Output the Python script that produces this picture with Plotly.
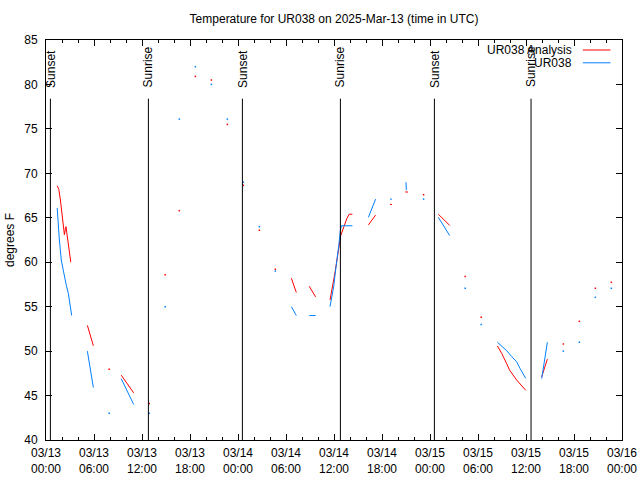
import plotly.graph_objects as go
import pandas as pd

BASE = pd.Timestamp("2025-03-13 00:00")
TITLE = "Temperature for UR038 on 2025-Mar-13 (time in UTC)"
Y_TITLE = "degrees F"

# hours after 2025-03-13 00:00 UTC; None marks a gap in the record
ana_hours = [1.4, 1.6, 1.8, 1.95, 2.1, 2.3, 2.42, 2.5, 2.6, 2.75, 2.95, 3.1, None,
             5.17, 5.92, None, 7.9, None, 9.4, 10.96, None, 12.9, None, 14.9, None,
             16.67, None, 18.67, None, 20.67, None, 22.67, None, 24.67, None, 26.67, None,
             28.67, None, 30.67, 31.29, None, 32.9, 33.7, None,
             35.5, 35.75, 35.96, 36.17, 36.4, 36.6, 36.8, 37.0, 37.2, 37.4, 37.6, 37.9, 38.3, None,
             40.3, 41.2, None, 43.0, 43.25, None, 44.9, 45.25, None, 47.2, None,
             49.04, 50.46, None, 52.4, None, 54.4, None,
             56.42, 56.96, 57.58, 57.96, 58.83, 59.96, None, 61.96, 62.67, None,
             64.67, None, 66.67, None, 68.67, None, 70.67]
ana_temp = [68.6, 68.2, 67.0, 66.0, 64.6, 63.1, 63.7, 64.0, 63.3, 62.3, 60.6, 60.0, None,
            52.9, 50.6, None, 47.95, None, 47.3, 45.3, None, 44.1, None, 58.6, None,
            65.8, None, 80.9, None, 80.5, None, 75.5, None, 68.65, None, 63.6, None,
            59.2, None, 58.2, 56.6, None, 57.3, 56.1, None,
            55.75, 57.25, 58.0, 59.1, 60.25, 61.6, 62.9, 63.4, 64.0, 64.5, 64.9, 65.4, 65.4, None,
            64.2, 65.3, None, 66.5, 66.5, None, 67.9, 67.9, None, 67.6, None,
            65.4, 64.15, None, 58.4, None, 53.8, None,
            50.58, 49.75, 48.6, 47.84, 46.75, 45.6, None, 47.1, 49.1, None,
            50.8, None, 53.35, None, 57.07, None, 57.74]

obs_hours = [1.4, 1.45, 1.55, 1.67, 1.79, 1.91, 2.16, 2.29, 2.54, 2.79, 2.96, 3.21, None,
             5.17, 5.92, None, 7.9, None, 9.4, 10.96, None, 12.9, None, 14.9, None,
             16.67, None, 18.67, None, 20.67, None, 22.67, None, 24.67, None, 26.67, None,
             28.67, None, 30.67, 31.29, None, 32.9, 33.7, None,
             35.5, 35.75, 35.96, 36.17, 36.4, 36.6, 36.8, 36.92, 38.3, None,
             40.3, 41.2, None, 43.0, 43.25, None, 45.0, 45.04, None, 47.2, None,
             49.04, 50.46, None, 52.4, None, 54.4, None,
             56.42, 56.96, 57.58, 58.2, 58.83, 59.25, 59.96, None, 61.96, 62.67, None,
             64.67, None, 66.67, None, 68.67, None, 70.67]
obs_temp = [66.1, 65.1, 63.6, 62.5, 61.4, 60.25, 59.1, 58.4, 57.4, 56.5, 55.6, 54.0, None,
            50.0, 45.9, None, 43.0, None, 46.9, 44.0, None, 43.0, None, 55.0, None,
            76.1, None, 82.0, None, 80.0, None, 76.1, None, 69.0, None, 64.0, None,
            59.0, None, 55.0, 54.0, None, 54.0, 54.0, None,
            55.0, 56.1, 57.25, 58.9, 60.25, 61.9, 63.6, 64.1, 64.1, None,
            65.05, 67.1, None, 67.1, 67.1, None, 69.0, 68.1, None, 67.1, None,
            65.05, 63.0, None, 57.07, None, 53.0, None,
            51.0, 50.6, 50.05, 49.4, 48.8, 48.06, 46.94, None, 46.9, 51.0, None,
            50.0, None, 51.0, None, 56.05, None, 57.07]

sun_labels = ["Sunset", "Sunrise", "Sunset", "Sunrise", "Sunset", "Sunrise"]
sun_hours = [0.55, 12.8, 24.55, 36.8, 48.55, 60.63]

series_names = ["UR038 Analysis", "UR038"]
series_colors = ["#ff0000", "#0080ff"]

Y_MIN, Y_MAX = 40, 85
X_START, X_END = 0, 72
FONT = "Liberation Sans"


def to_time(h):
    return None if h is None else BASE + pd.Timedelta(hours=h)


fig = go.Figure()

for name, color, hrs, temps in [(series_names[0], series_colors[0], ana_hours, ana_temp),
                                (series_names[1], series_colors[1], obs_hours, obs_temp)]:
    xs = [to_time(h) for h in hrs]
    fig.add_trace(go.Scatter(x=xs, y=temps, mode="lines", name=name,
                             line=dict(color=color, width=1), connectgaps=False,
                             showlegend=False))
    # isolated samples: shown as single dots
    iso_x, iso_y = [], []
    for i, t in enumerate(temps):
        if t is None:
            continue
        prev_none = i == 0 or temps[i - 1] is None
        next_none = i == len(temps) - 1 or temps[i + 1] is None
        if prev_none and next_none:
            iso_x.append(xs[i])
            iso_y.append(t)
    fig.add_trace(go.Scatter(x=iso_x, y=iso_y, mode="markers", name=name,
                             marker=dict(color=color, size=1.5, symbol="square",
                                         line=dict(width=0)),
                             showlegend=False))

# sunrise / sunset markers
for lab, h in zip(sun_labels, sun_hours):
    t = to_time(h)
    fig.add_shape(type="line", xref="x", yref="y", x0=t, x1=t, y0=Y_MIN, y1=78.4,
                  line=dict(color="black", width=1))
    fig.add_annotation(x=t, y=79.2, xref="x", yref="y", text=lab, textangle=-90,
                       showarrow=False, xanchor="center", yanchor="bottom", yshift=3,
                       borderpad=0,
                       font=dict(family=FONT, size=12, color="black"))

# gnuplot-style legend (text left of the line sample)
legend_rows = [0.975, 0.943]
for name, color, yy in zip(series_names, series_colors, legend_rows):
    fig.add_annotation(x=0.917, y=yy, xref="paper", yref="paper", text=name,
                       showarrow=False, xanchor="right", yanchor="middle",
                       font=dict(family=FONT, size=12, color="black"))
    fig.add_shape(type="line", xref="paper", yref="paper", x0=0.932, x1=0.98,
                  y0=yy, y1=yy, line=dict(color=color, width=1))

# y-axis title placed like gnuplot (far left, rotated)
fig.add_annotation(x=0, y=0.5, xref="paper", yref="paper", text=Y_TITLE,
                   textangle=-90, showarrow=False, xanchor="center", yanchor="middle",
                   xshift=-36, font=dict(family=FONT, size=12, color="black"))

fig.update_layout(
    width=640, height=480,
    margin=dict(l=46, r=18, t=40, b=40, autoexpand=False),
    paper_bgcolor="white", plot_bgcolor="white",
    font=dict(family=FONT, size=12, color="black"),
    title=dict(text=TITLE, x=0.5, xanchor="center", xref="paper",
               y=1 - 19 / 480, yref="container", yanchor="middle",
               font=dict(family=FONT, size=12)),
    showlegend=False,
)

fig.update_xaxes(
    type="date", range=[to_time(X_START), to_time(X_END)], automargin=False,
    tickformat="%m/%d<br>%H:%M", dtick=6 * 3600000, tick0=to_time(0),
    ticks="inside", ticklen=6, tickcolor="black", showline=True, linecolor="black",
    linewidth=1, mirror="ticks", showgrid=False, zeroline=False,
    minor=dict(dtick=2 * 3600000, tick0=to_time(0), ticks="inside", ticklen=3,
               tickcolor="black", showgrid=False),
    tickfont=dict(family=FONT, size=12), ticklabelstandoff=2,
)
fig.update_yaxes(
    range=[Y_MIN, Y_MAX], dtick=5, ticks="inside", ticklen=6, tickcolor="black",
    showline=True, linecolor="black", linewidth=1, mirror="ticks", automargin=False,
    showgrid=False, zeroline=False, ticklabelstandoff=5,
    tickfont=dict(family=FONT, size=12),
)

fig.write_html("out.html", config={"displayModeBar": False},
               post_script="document.body.style.margin='0';document.body.style.padding='0';")
